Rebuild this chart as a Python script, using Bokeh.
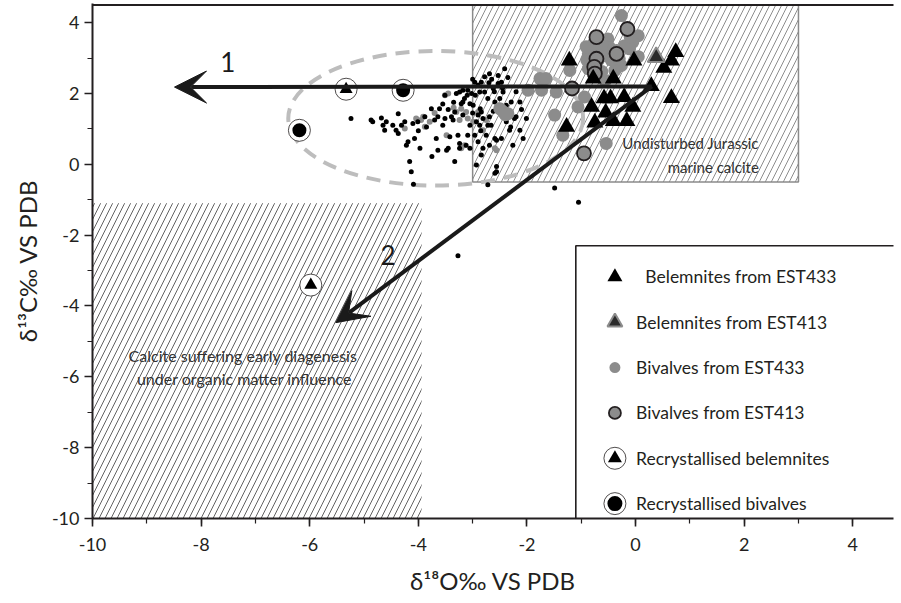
from bokeh.plotting import figure
from bokeh.models import Arrow, VeeHead, Label, SingleIntervalTicker, Range1d
from bokeh.embed import file_html
from bokeh.resources import INLINE

FONT = "Lato"
INK = "#231f20"
GREY = "#8c8c8c"

# ---------------- data (delta18O, delta13C) ----------------
dots_x = [-5.24, -4.87, -4.84, -4.68, -4.65, -4.59, -4.62, -4.47, -4.41, -4.37, -4.37, -4.31, -4.25,
          -4.22, -4.19, -4.16, -4.13, -4.09, -4.07, -4.01, -3.97, -3.88, -3.76, -3.75, -3.70, -3.67,
          -3.64, -3.61, -3.55, -3.51, -3.48, -3.42, -3.36, -3.33, -3.30, -3.27, -3.24, -3.24, -3.21,
          -3.18, -3.15, -3.12, -3.09, -3.09, -3.05, -3.02, -2.99, -2.96, -2.93, -2.93, -2.90, -2.87,
          -2.84, -2.81, -2.78, -2.75, -2.72, -2.72, -2.69, -2.66, -2.62, -2.59, -2.56, -2.56, -2.53,
          -2.47, -2.44, -2.41, -2.38, -2.32, -2.29, -2.23, -2.13, -2.07, -2.01, -2.56, -1.49, -1.05,
          -3.27, -2.86, -3.18, -2.90, -2.84, -2.69, -2.78, -2.53, -3.18, -3.05, -3.33, -3.39, -2.90,
          -2.81, -2.72, -2.87, -2.96, -3.24, -3.05, -2.59, -3.64, -3.51, -4.10, -3.45, -2.50, -2.38,
          -2.20, -2.13, -2.84, -2.26, -2.47, -2.59, -2.69, -3.00, -2.65, -2.60, -2.45, -2.95, -3.10,
          -2.35, -2.70, -3.35, -2.45, -2.62, -3.00, -2.20, -2.10, -2.30, -3.55, -3.85, -4.00, -3.45,
          -2.85]
dots_y = [1.29, 1.25, 1.20, 1.31, 1.10, 1.20, 0.96, 1.10, 0.96, 1.43, 0.87, 1.10, 1.20,
          0.54, 0.64, 0.08, -0.21, -0.56, 0.73, 1.20, 0.45, 1.34, 1.57, 0.22, 1.25, 0.73,
          0.40, 1.57, 1.10, 1.95, 0.40, 0.78, 1.25, 0.08, 2.00, 0.82, 2.04, 0.45, 1.71,
          1.39, 1.86, 0.54, 2.09, 0.82, 1.10, 2.00, 1.67, 2.32, 1.20, -0.02, 0.64, 2.04,
          1.48, 0.45, 2.47, 0.82, 1.86, -0.58, 1.34, 1.10, 2.14, 1.76, 0.68, -0.06, 2.51,
          2.32, 2.04, 2.70, 1.20, 0.96, 1.76, 1.29, 1.76, 0.73, 1.29, -0.21, -0.67, -1.07,
          -2.58, 1.57, 2.09, 2.23, 2.32, 2.56, 2.04, 2.28, 1.76, 1.71, 1.48, 1.34, 1.39,
          1.29, 1.10, 1.10, 0.82, 0.59, 0.45, 0.73, 1.34, 1.29, 1.15, 0.45, 1.86, 1.67,
          1.34, 0.96, 0.26, 0.54, 0.73, -0.25, 0.54, 2.40, 2.40, 2.05, 2.15, 1.95, 1.95,
          2.45, 2.30, 1.75, 1.55, 1.50, 1.45, 2.05, 1.55, 1.05, 1.70, 1.05, 0.95, 1.55,
          0.95]

gdots_x = [-3.51, -3.45, -3.91, -4.04, -3.95, -3.79, -3.88, -4.25, -3.30, -3.21, -3.12, -3.09,
           -3.24, -2.99, -3.48, -3.15, -3.21, -2.59, -2.90, -2.81, -2.56, -3.35, -3.70, -2.75]
gdots_y = [1.95, 2.00, 1.34, 1.29, 1.25, 1.20, 1.06, 1.01, 1.48, 1.57, 1.48, 1.29,
           1.25, 1.20, 0.82, 0.54, 0.45, 0.45, 1.48, 0.96, 0.40, 1.60, 1.45, 1.25]

biv433_x = [-0.26, 0.05, -0.05, -0.11, -0.20, -0.35, -0.57, -0.69, -0.87, -0.81, -0.72, -0.57,
            -0.38, -0.26, 0.05, -0.78, -0.51, -0.91, -0.87, -1.21, -1.76, -1.65, -1.98, -1.73,
            -1.46, -0.94, -1.06, -1.49, -1.34, -0.54, -2.44, -2.35, -2.50, -2.40,
            -0.45, -0.62, -0.48, -0.30, -0.90, -0.70, -0.10, -0.62]
biv433_y = [4.20, 3.63, 3.45, 3.26, 3.35, 3.21, 3.07, 2.93, 3.12, 2.79, 2.51, 2.37,
            2.65, 2.79, 3.04, 3.40, 3.54, 3.32, 2.70, 2.65, 2.42, 2.42, 2.09, 2.09,
            2.04, 1.90, 1.62, 1.39, 0.82, 0.59, 1.49, 1.43, 1.57, 1.40,
            2.95, 2.62, 3.30, 2.98, 2.95, 3.25, 3.60, 3.40]

biv413_x = [-0.72, -0.15, -0.35, -0.72, -0.76, -0.75, -1.17, -0.95]
biv413_y = [3.59, 3.82, 3.12, 2.98, 2.75, 2.56, 2.14, 0.31]

bel433_x = [-1.22, -0.78, -0.41, 0.29, 0.74, 0.66, 0.52, 0.66, -0.58, -0.46, -0.21, -0.81,
            -0.55, -0.05, -0.75, -0.41, -0.16, -1.27, -0.03]
bel433_y = [2.93, 2.42, 2.42, 2.21, 3.17, 2.93, 2.72, 1.87, 1.86, 1.86, 1.90, 1.62,
            1.46, 1.62, 1.18, 1.22, 1.22, 1.06, 2.93]

bel413_x = [0.38]
bel413_y = [3.03]

rbel_x = [-5.33, -5.98]
rbel_y = [2.12, -3.41]
rbiv_x = [-4.28, -6.19]
rbiv_y = [2.09, 0.96]

# interpretation zones / trends (data units)
zone_marine = [-3.0, 3.0, -0.5, 4.5]       # left, right, bottom, top
zone_diag = [-10.0, -3.94, -10.0, -1.1]
trend_start = [0.3, 2.2]
trend1_end = [-8.49, 2.18]
trend2_end = [-5.52, -4.47]
ellipse_c = [-3.68, 1.30]
ellipse_wh = [5.43, 3.80]

legend_labels = ["Belemnites from EST433", "Belemnites from EST413", "Bivalves from EST433",
                 "Bivalves from EST413", "Recrystallised belemnites", "Recrystallised bivalves"]

x_ticks = [-10, -8, -6, -4, -2, 0, 2, 4]
y_ticks = [-10, -8, -6, -4, -2, 0, 2, 4]

X_LO, X_HI = -10, 4.75
Y_LO, Y_TOP = -10, 4.5

# ---------------- figure ----------------
p = figure(width=895, height=601, output_backend="svg", toolbar_location=None,
           x_range=Range1d(X_LO, X_HI), y_range=Range1d(Y_LO, Y_TOP + 0.04),
           min_border_left=92, min_border_right=2, min_border_top=3, min_border_bottom=83)
p.grid.visible = False
p.outline_line_color = None
p.background_fill_color = "white"
p.border_fill_color = "white"

for ax, ticks, lab, lstand, astand in ((p.xaxis[0], x_ticks, "δ¹⁸O‰ VS PDB", 11, 12),
                                       (p.yaxis[0], y_ticks, "δ¹³C‰ VS PDB", 5, 7)):
    ax.ticker = SingleIntervalTicker(interval=2, num_minor_ticks=2)
    ax.major_label_overrides = {t: str(t) for t in ticks}
    ax.axis_line_width = 2
    ax.axis_line_color = INK
    ax.major_tick_in = 0
    ax.major_tick_out = 8
    ax.minor_tick_in = 0
    ax.minor_tick_out = 5
    ax.major_tick_line_width = 1.6
    ax.minor_tick_line_width = 1.2
    ax.major_tick_line_color = INK
    ax.minor_tick_line_color = INK
    ax.major_label_text_font = FONT
    ax.major_label_text_font_size = "18px"
    ax.major_label_text_color = INK
    ax.major_label_standoff = lstand
    ax.axis_label = lab
    ax.axis_label_text_font = FONT
    ax.axis_label_text_font_size = "24px"
    ax.axis_label_text_font_style = "normal"
    ax.axis_label_text_color = INK
    ax.axis_label_standoff = astand

# hatched zones
p.quad(left=[zone_marine[0]], right=[zone_marine[1]], bottom=[zone_marine[2]], top=[zone_marine[3]],
       fill_color=None, hatch_pattern="/", hatch_color="#707070", hatch_weight=0.8, hatch_scale=12,
       line_color="#8a8a8a", line_width=1.5)
p.quad(left=[zone_diag[0]], right=[zone_diag[1]], bottom=[zone_diag[2]], top=[zone_diag[3]],
       fill_color=None, hatch_pattern="/", hatch_color="#3a3a3a", hatch_weight=0.8, hatch_scale=12,
       line_color=None)

# top frame line only (the original has no right border)
p.segment(x0=[X_LO], y0=[Y_TOP], x1=[X_HI + 1], y1=[Y_TOP], line_color=INK, line_width=2)

# dashed ellipse
p.ellipse(x=[ellipse_c[0]], y=[ellipse_c[1]], width=[ellipse_wh[0]], height=[ellipse_wh[1]],
          fill_color=None, line_color="#bdbdbd", line_width=4, line_dash="14 9")

# small dots
p.scatter(gdots_x, gdots_y, marker="circle", size=6, fill_color=GREY, line_color=None)
p.scatter(dots_x, dots_y, marker="circle", size=5, fill_color="black", line_color=None)

# trend arrows
for end in (trend1_end, trend2_end):
    p.add_layout(Arrow(x_start=trend_start[0], y_start=trend_start[1], x_end=end[0], y_end=end[1],
                       line_width=4, line_color="#1a1a1a",
                       end=VeeHead(size=32, fill_color="#1a1a1a", line_color="#1a1a1a", line_width=1)))

# main markers
p.scatter(biv433_x, biv433_y, marker="circle", size=13, fill_color=GREY, line_color=None)
p.scatter(biv413_x, biv413_y, marker="circle", size=14, fill_color=GREY, line_color=INK, line_width=1.8)
p.scatter(bel433_x, bel433_y, marker="triangle", size=17, fill_color="black", line_color=None)
p.scatter(bel413_x, bel413_y, marker="triangle", size=17, fill_color="#2b2b2b", line_color="#8c8c8c",
          line_width=2)
p.scatter(rbel_x, rbel_y, marker="circle", size=22, fill_color="white", line_color=INK, line_width=0.8)
p.scatter(rbel_x, rbel_y, marker="triangle", size=13, fill_color="black", line_color=None)
p.scatter(rbiv_x, rbiv_y, marker="circle", size=22, fill_color="white", line_color=INK, line_width=0.8)
p.scatter(rbiv_x, rbiv_y, marker="circle", size=14, fill_color="black", line_color=None)

# annotations
def label(x, y, text, size="15px", align="center", color="#333333"):
    p.add_layout(Label(x=x, y=y, text=text, text_font=FONT, text_font_size=size, text_color=color,
                       text_align=align, text_baseline="middle"))

label(-7.51, 2.90, "1", size="26px", color="#1a1a1a")
label(-4.56, -2.55, "2", size="26px", color="#1a1a1a")
label(2.27, 0.60, "Undisturbed Jurassic", align="right")
label(2.27, -0.07, "marine calcite", align="right")
label(-7.23, -5.40, "Calcite suffering early diagenesis", size="16px")
label(-7.20, -6.05, "under organic matter influence", size="16px")

# legend box (drawn by hand so the ringed symbols keep their look)
p.quad(left=[-1.1], right=[6.0], bottom=[-11.0], top=[-2.30], fill_color="white",
       line_color=INK, line_width=1.6)
LX, TX, Y0, DY = -0.38, 0.01, -3.18, -1.28
ly = [Y0 + i * DY for i in range(6)]
tx = [TX + 0.17] + [TX] * 5
p.scatter([LX], [ly[0]], marker="triangle", size=15, fill_color="black", line_color=None)
p.scatter([LX], [ly[1]], marker="triangle", size=15, fill_color="#2b2b2b", line_color="#8c8c8c", line_width=2)
p.scatter([LX], [ly[2]], marker="circle", size=11, fill_color=GREY, line_color=None)
p.scatter([LX], [ly[3]], marker="circle", size=12, fill_color=GREY, line_color=INK, line_width=1.8)
p.scatter([LX, LX], [ly[4], ly[5]], marker="circle", size=22, fill_color="white", line_color=INK, line_width=0.8)
p.scatter([LX], [ly[4]], marker="triangle", size=14, fill_color="black", line_color=None)
p.scatter([LX], [ly[5]], marker="circle", size=15, fill_color="black", line_color=None)
for xx, yy, txt in zip(tx, ly, legend_labels):
    label(xx, yy, txt, size="17.5px", align="left", color="#231f20")

open("out.html", "w").write(file_html(p, INLINE))
